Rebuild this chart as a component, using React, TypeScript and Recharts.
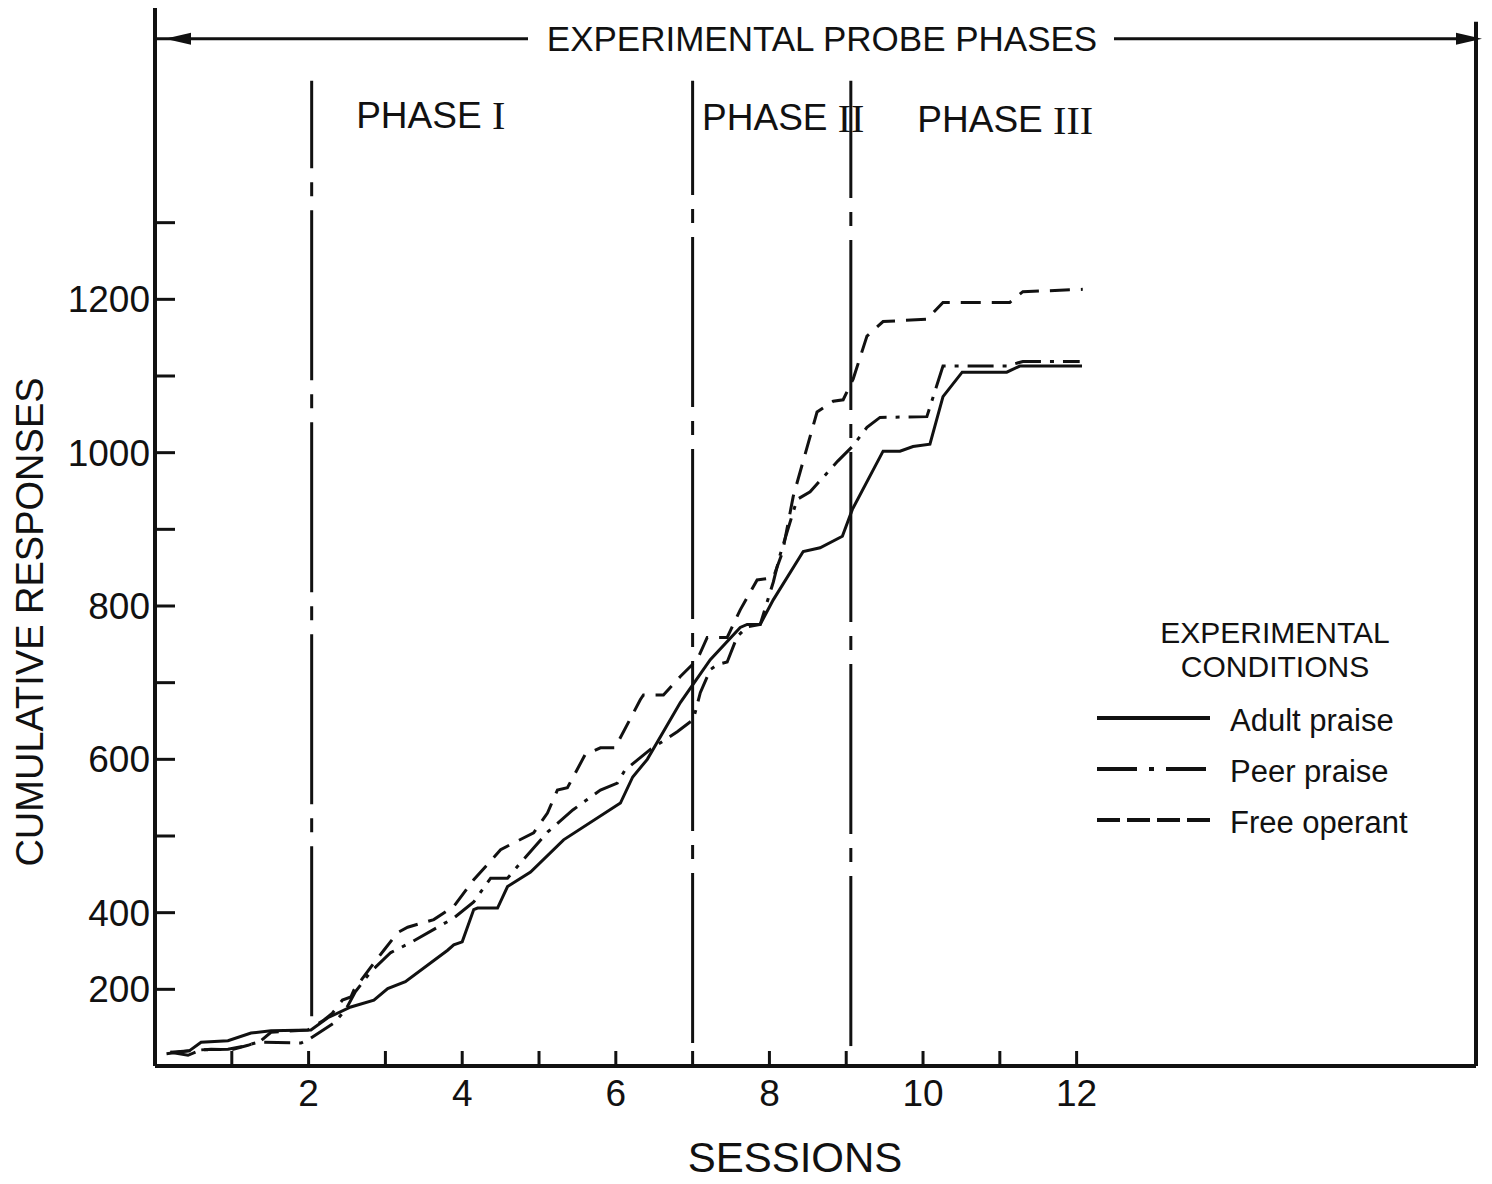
import React from "react";
import {
  LineChart,
  Line,
  XAxis,
  YAxis,
  ReferenceLine,
  ReferenceDot,
  Legend,
} from "recharts";

const FONT = '"Liberation Sans", Arial, sans-serif';
const INK = "#111";

// session number (x) and cumulative responses (y)
const adultSessions = [0.15, 0.45, 0.6, 0.95, 1.25, 1.51, 2.03, 2.25, 2.55, 2.85, 3.03, 3.26, 3.81, 3.89, 4.0, 4.15, 4.2, 4.46, 4.59, 4.89, 5.32, 6.06, 6.22, 6.41, 6.84, 7.23, 7.62, 7.71, 7.88, 8.05, 8.44, 8.66, 8.95, 9.08, 9.48, 9.7, 9.87, 10.09, 10.26, 10.51, 11.09, 11.26, 12.07];
const adultResponses = [216, 220, 231, 233, 243, 246, 247, 263, 277, 286, 301, 310, 351, 358, 362, 404, 406, 406, 434, 453, 495, 543, 577, 600, 674, 730, 772, 776, 776, 808, 871, 876, 891, 926, 1002, 1002, 1008, 1011, 1073, 1105, 1105, 1113, 1113];

const peerSessions = [0.2, 0.43, 0.6, 0.95, 1.12, 1.34, 1.9, 1.99, 2.33, 2.48, 2.61, 2.81, 3.07, 3.33, 3.89, 4.15, 4.37, 4.59, 4.76, 5.11, 5.44, 5.8, 6.02, 6.12, 6.45, 6.8, 7.01, 7.1, 7.23, 7.33, 7.45, 7.58, 7.71, 7.88, 8.05, 8.14, 8.36, 8.53, 8.89, 9.08, 9.27, 9.44, 10.05, 10.26, 11.09, 11.3, 12.04];
const peerResponses = [218, 214, 221, 222, 225, 231, 230, 234, 256, 273, 297, 323, 348, 361, 393, 414, 445, 445, 465, 505, 534, 560, 569, 586, 613, 636, 652, 687, 717, 724, 727, 760, 773, 776, 831, 867, 939, 949, 989, 1008, 1033, 1046, 1047, 1113, 1113, 1119, 1119];

const freeSessions = [0.2, 0.73, 0.99, 1.21, 1.38, 1.51, 1.99, 2.2, 2.31, 2.44, 2.55, 2.59, 2.81, 2.98, 3.16, 3.29, 3.63, 3.89, 4.15, 4.5, 4.63, 4.93, 5.11, 5.24, 5.37, 5.6, 5.8, 5.99, 6.32, 6.36, 6.62, 6.84, 7.06, 7.19, 7.45, 7.62, 7.84, 8.05, 8.17, 8.31, 8.62, 8.83, 8.96, 9.09, 9.27, 9.48, 10.05, 10.26, 11.13, 11.3, 12.08];
const freeResponses = [218, 222, 221, 227, 233, 244, 247, 260, 269, 286, 290, 299, 329, 351, 374, 381, 391, 408, 443, 482, 489, 504, 530, 560, 563, 606, 615, 615, 678, 684, 684, 708, 730, 759, 759, 795, 834, 837, 870, 943, 1053, 1067, 1069, 1096, 1152, 1171, 1174, 1196, 1196, 1210, 1213];

const sessionTicks = [1, 2, 3, 4, 5, 6, 7, 8, 9, 10, 11, 12];
const responseTicks = [300, 400, 500, 600, 700, 800, 900, 1000, 1100, 1200, 1300];
// the printed axis puts "200" on the tick just below 400
const responseLabels: Record<number, string> = {
  300: "200",
  400: "400",
  600: "600",
  800: "800",
  1000: "1000",
  1200: "1200",
};

const phaseBoundaries = [2.04, 7.0, 9.06];
const phaseLineBottoms = [265, 230, 226];
const phaseNumerals = ["I", "II", "III"];
const phaseLabelSessions = [3.59, 8.18, 11.07];

const series = [
  { name: "Adult praise", sessions: adultSessions, responses: adultResponses, dash: undefined as string | undefined, legendDash: undefined as string | undefined },
  { name: "Peer praise", sessions: peerSessions, responses: peerResponses, dash: "26 9 4 9", legendDash: "40 12 5 12" },
  { name: "Free operant", sessions: freeSessions, responses: freeResponses, dash: "20 11", legendDash: "23 7" },
];

const toPoints = (xs: number[], ys: number[]) => xs.map((x, i) => ({ x, y: ys[i] }));

const ProbeArrow = (props: any) => {
  const { viewBox } = props;
  const y = viewBox.y;
  const left = viewBox.x + 10;
  const right = viewBox.x + viewBox.width + 6;
  const cx = 822;
  return (
    <g>
      <rect x={cx - 294} y={y - 24} width={586} height={48} fill="#fff" />
      <text x={cx} y={y} textAnchor="middle" dominantBaseline="central" fontSize={35} fill={INK} fontFamily={FONT}>
        EXPERIMENTAL PROBE PHASES
      </text>
      <polygon points={`${left},${y} ${left + 26},${y - 6} ${left + 26},${y + 6}`} fill={INK} />
      <polygon points={`${right},${y} ${right - 26},${y - 6} ${right - 26},${y + 6}`} fill={INK} />
    </g>
  );
};

const PhaseLabel = (numeral: string) => (props: any) => {
  const { viewBox } = props;
  return (
    <text x={viewBox.x} y={viewBox.y} textAnchor="middle" dominantBaseline="central" fontSize={37} fill={INK} fontFamily={FONT}>
      PHASE{" "}
      <tspan fontFamily='"Liberation Serif", serif' fontSize={40}>{numeral}</tspan>
    </text>
  );
};

const ConditionsLegend = () => (
  <svg width={350} height={250} style={{ fontFamily: FONT }}>
    <text x={190} y={32} textAnchor="middle" dominantBaseline="central" fontSize={30} fill={INK}>EXPERIMENTAL</text>
    <text x={190} y={66} textAnchor="middle" dominantBaseline="central" fontSize={30} fill={INK}>CONDITIONS</text>
    {series.map((s, i) => (
      <g key={s.name}>
        <line x1={12} x2={125} y1={118 + i * 51} y2={118 + i * 51} stroke={INK} strokeWidth={4} strokeDasharray={s.legendDash} />
        <text x={145} y={120 + i * 51} dominantBaseline="central" fontSize={31} fill={INK}>{s.name}</text>
      </g>
    ))}
  </svg>
);

export default function App() {
  return (
    <div style={{ position: "absolute", left: 0, top: 0, width: 1492, height: 1184, background: "#fff", fontFamily: FONT }}>
      <LineChart width={1492} height={1184} margin={{ top: 8, right: 16, bottom: 0, left: 0 }}>
        <XAxis
          type="number"
          dataKey="x"
          domain={[0, 17.2]}
          ticks={sessionTicks}
          tickFormatter={(v: number) => (v % 2 === 0 ? String(v) : "")}
          interval={0}
          allowDataOverflow
          height={118}
          tickSize={-15}
          tickMargin={29}
          axisLine={{ stroke: INK, strokeWidth: 4 }}
          tickLine={{ stroke: INK, strokeWidth: 3 }}
          tick={{ fill: INK, fontSize: 37, fontFamily: FONT }}
          label={() => (
            <text x={795} y={1157} textAnchor="middle" dominantBaseline="central" fontSize={42} fill={INK} fontFamily={FONT}>
              SESSIONS
            </text>
          )}
        />
        <YAxis
          type="number"
          dataKey="y"
          domain={[200, 1580]}
          ticks={responseTicks}
          tickFormatter={(v: number) => responseLabels[v] ?? ""}
          interval={0}
          allowDataOverflow
          width={155}
          tickSize={-20}
          tickMargin={25}
          axisLine={{ stroke: INK, strokeWidth: 4 }}
          tickLine={{ stroke: INK, strokeWidth: 3 }}
          tick={{ fill: INK, fontSize: 37, fontFamily: FONT }}
          label={() => (
            <text x={30} y={622} transform="rotate(-90, 30, 622)" textAnchor="middle" dominantBaseline="central" fontSize={38} fill={INK} fontFamily={FONT}>
              CUMULATIVE RESPONSES
            </text>
          )}
        />
        <ReferenceLine
          segment={[{ x: 17.2, y: 200 }, { x: 17.2, y: 1562 }]}
          stroke={INK}
          strokeWidth={4}
          ifOverflow="visible"
        />
        <ReferenceLine y={1540} stroke={INK} strokeWidth={3} ifOverflow="visible" label={<ProbeArrow />} />
        {phaseBoundaries.map((b, i) => (
          <ReferenceLine
            key={b}
            segment={[{ x: b, y: phaseLineBottoms[i] }, { x: b, y: 1485 }]}
            stroke={INK}
            strokeWidth={3}
            strokeDasharray="170 14 14 14"
          />
        ))}
        {phaseLabelSessions.map((s, i) => (
          <ReferenceDot key={s} x={s} y={1440 - i * 3} r={0} fill="none" stroke="none" label={PhaseLabel(phaseNumerals[i])} />
        ))}
        {series.map((s) => (
          <Line
            key={s.name}
            name={s.name}
            data={toPoints(s.sessions, s.responses)}
            dataKey="y"
            type="linear"
            stroke={INK}
            strokeWidth={3}
            strokeDasharray={s.dash}
            dot={false}
            activeDot={false}
            isAnimationActive={false}
          />
        ))}
        <Legend
          layout="vertical"
          align="center"
          verticalAlign="middle"
          content={() => <ConditionsLegend />}
          wrapperStyle={{ position: "absolute", left: 1085, top: 600, width: 350, height: 250 }}
        />
      </LineChart>
    </div>
  );
}
